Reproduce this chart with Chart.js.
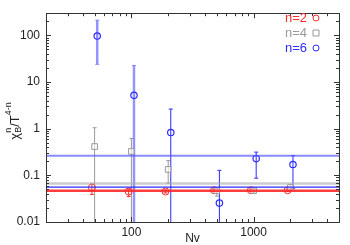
<!DOCTYPE html>
<html>
<head>
<meta charset="utf-8">
<script src="https://cdn.jsdelivr.net/npm/chart.js@4.4.1/dist/chart.umd.min.js"></script>
<style>
  html, body { margin: 0; padding: 0; background: #fff; }
  #wrap { width: 350px; height: 245px; position: relative; }
</style>
</head>
<body>
<div id="wrap"><canvas id="chart" width="350" height="245"></canvas></div>
<script>
// data
const nvN2 = [47.5, 95, 190, 475, 950, 1900]
const nvN4 = [50, 100, 200, 500, 1000, 2000]
const nvN6 = [52.5, 105, 210, 525, 1050, 2100]

const chiN2 = [0.055, 0.045, 0.045, 0.048, 0.048, 0.048]
const loN2 = [0.039, 0.035, 0.042, 0.045, 0.045, 0.045]
const hiN2 = [0.065, 0.051, 0.048, 0.051, 0.051, 0.051]

const chiN4 = [0.415, 0.326, 0.134, 0.047, 0.047, 0.055]
const loN4 = [-0.2, -0.05, 0.068, 0.036, 0.043, 0.05]
const hiN4 = [1.05, 0.62, 0.207, 0.052, 0.052, 0.064]

const chiN6 = [97, 5.2, 0.83, 0.0254, 0.229, 0.171]
const loN6 = [24, -11, -1, -0.08, 0.087, 0.052]
const hiN6 = [213, 22.6, 2.64, 0.128, 0.315, 0.264]

const fitN2 = [0.047]
const fitN4 = [0.067]
const fitN6 = [0.056, 0.264]

const xTickLabels = [100, 1000]
const yTickLabels = [0.01, 0.1, 1, 10, 100]
const legendLabels = ['n=2', 'n=4', 'n=6']

const RED = '#ff2a2a'
const GREY = '#9a9a9a'
const BLUE = '#2b2bff'
const xMin = 20, xMax = 5000, yMin = 0.01, yMax = 300

const pts = (xs, ys) => xs.map((x, i) => ({ x: x, y: ys[i] }))
const hline = v => [{ x: xMin, y: v }, { x: xMax, y: v }]

// error bars, frame, inside ticks, legend and axis titles
const extras = {
  id: 'extras',
  beforeDatasetsDraw(chart) {
    const ctx = chart.ctx, xs = chart.scales.x, ys = chart.scales.y, a = chart.chartArea
    const bars = [
      [nvN2, loN2, hiN2, RED],
      [nvN4, loN4, hiN4, GREY],
      [nvN6, loN6, hiN6, BLUE]
    ]
    ctx.save()
    ctx.beginPath(); ctx.rect(a.left, a.top, a.right - a.left, a.bottom - a.top); ctx.clip()
    bars.forEach(([nx, lo, hi, col]) => {
      nx.forEach((n, i) => {
        const px = xs.getPixelForValue(n)
        const top = ys.getPixelForValue(hi[i])
        const bot = lo[i] > 0 ? ys.getPixelForValue(lo[i]) : a.bottom + 2
        let w = 1, c = col
        if (col === BLUE && i < 2) { w = 2.5; c = 'rgba(60,60,255,0.55)' }
        ctx.strokeStyle = c; ctx.lineWidth = w
        ctx.beginPath(); ctx.moveTo(px, top); ctx.lineTo(px, bot); ctx.stroke()
        ctx.lineWidth = 1
        ctx.beginPath(); ctx.moveTo(px - 2, top); ctx.lineTo(px + 2, top)
        if (lo[i] > 0) { ctx.moveTo(px - 2, bot); ctx.lineTo(px + 2, bot) }
        ctx.stroke()
      })
    })
    ctx.restore()
  },
  afterDraw(chart) {
    const ctx = chart.ctx, xs = chart.scales.x, ys = chart.scales.y, a = chart.chartArea
    ctx.save()
    ctx.strokeStyle = '#333'; ctx.lineWidth = 1
    ctx.strokeRect(Math.round(a.left) + 0.5, Math.round(a.top) + 0.5, Math.round(a.right - a.left), Math.round(a.bottom - a.top))
    // ticks
    ctx.beginPath()
    for (let d = 10; d <= 1000; d *= 10) {
      for (let k = 1; k <= 9; k++) {
        const v = d * k
        if (v < xMin || v > xMax) continue
        const px = Math.round(xs.getPixelForValue(v)) + 0.5
        const len = k === 1 ? 5 : 3
        ctx.moveTo(px, a.bottom); ctx.lineTo(px, a.bottom - len)
        ctx.moveTo(px, a.top); ctx.lineTo(px, a.top + len)
      }
    }
    for (let d = 0.01; d <= 100; d *= 10) {
      for (let k = 1; k <= 9; k++) {
        const v = d * k
        if (v < yMin * 0.999 || v > yMax) continue
        const py = Math.round(ys.getPixelForValue(v)) + 0.5
        const len = k === 1 ? 5 : 3
        ctx.moveTo(a.left, py); ctx.lineTo(a.left + len, py)
        ctx.moveTo(a.right, py); ctx.lineTo(a.right - len, py)
      }
    }
    ctx.stroke()

    // legend
    const cols = [RED, GREY, BLUE]
    ctx.font = '13px "Liberation Sans", Arial, sans-serif'
    ctx.textAlign = 'right'; ctx.textBaseline = 'middle'
    legendLabels.forEach((t, i) => {
      const y = 18 + i * 15
      ctx.fillStyle = cols[i]
      ctx.fillText(t, 307, y)
      ctx.strokeStyle = cols[i]; ctx.lineWidth = 1
      ctx.beginPath()
      if (i === 1) ctx.rect(313, y - 3, 6, 6)
      else ctx.arc(316, y, 3, 0, Math.PI * 2)
      ctx.stroke()
    })

    // x title
    ctx.fillStyle = '#222'; ctx.textAlign = 'center'; ctx.textBaseline = 'top'
    ctx.font = '12px "Liberation Sans", Arial, sans-serif'
    ctx.fillText('Nv', (a.left + a.right) / 2, 233)

    // y title, rotated
    ctx.translate(15, 121); ctx.rotate(-Math.PI / 2)
    const parts = [
      ['χ', 13, 0], ['B', 9, 4], ['/T', 13, 0], ['4-n', 9, -6]
    ]
    ctx.textAlign = 'left'; ctx.textBaseline = 'middle'
    let total = 0
    parts.forEach(p => { ctx.font = p[1] + 'px "Liberation Sans", Arial'; total += ctx.measureText(p[0]).width })
    let x = -total / 2
    parts.forEach(p => {
      ctx.font = p[1] + 'px "Liberation Sans", Arial'
      ctx.fillText(p[0], x, p[2])
      if (p[0] === 'B') {
        ctx.fillText('n', x, -6)
      }
      x += ctx.measureText(p[0]).width
    })
    ctx.restore()
  }
}

new Chart(document.getElementById('chart'), {
  type: 'scatter',
  data: {
    datasets: [
      { type: 'line', data: hline(fitN6[1]), borderColor: 'rgba(90,90,255,0.7)', borderWidth: 2, pointRadius: 0 },
      { type: 'line', data: hline(fitN4[0]), borderColor: 'rgba(170,170,170,0.6)', borderWidth: 2.5, pointRadius: 0 },
      { type: 'line', data: hline(fitN6[0]), borderColor: BLUE, borderWidth: 1.2, pointRadius: 0 },
      { type: 'line', data: hline(fitN2[0]), borderColor: 'rgba(255,40,40,0.9)', borderWidth: 2.5, pointRadius: 0 },
      { data: pts(nvN4, chiN4), pointStyle: 'rect', pointRadius: 4, borderColor: GREY, backgroundColor: 'rgba(255,255,255,0.6)', borderWidth: 1 },
      { data: pts(nvN2, chiN2), pointStyle: 'circle', pointRadius: 3.5, borderColor: RED, backgroundColor: 'rgba(0,0,0,0)', borderWidth: 1 },
      { data: pts(nvN6, chiN6), pointStyle: 'circle', pointRadius: 3.2, borderColor: BLUE, backgroundColor: 'rgba(0,0,0,0)', borderWidth: 1.2 }
    ]
  },
  options: {
    responsive: false,
    animation: false,
    devicePixelRatio: 1,
    layout: { padding: { left: 0, right: 11, top: 8, bottom: 0 } },
    plugins: { legend: { display: false }, tooltip: { enabled: false } },
    scales: {
      x: {
        type: 'logarithmic', min: xMin, max: xMax,
        afterBuildTicks: s => { s.ticks = xTickLabels.map(v => ({ value: v })) },
        afterFit: s => { s.height = 23 },
        grid: { display: false, drawTicks: false }, border: { display: false },
        ticks: { color: '#222', font: { size: 12, family: '"Liberation Sans", Arial' }, padding: 3, maxRotation: 0, autoSkip: false, callback: v => String(v) }
      },
      y: {
        type: 'logarithmic', min: yMin, max: yMax,
        afterBuildTicks: s => { s.ticks = yTickLabels.map(v => ({ value: v })) },
        afterFit: s => { s.width = 46 },
        grid: { display: false, drawTicks: false }, border: { display: false },
        ticks: { color: '#222', font: { size: 12, family: '"Liberation Sans", Arial' }, padding: 6, autoSkip: false, callback: v => String(v) }
      }
    }
  },
  plugins: [extras]
})
</script>
</body>
</html>
